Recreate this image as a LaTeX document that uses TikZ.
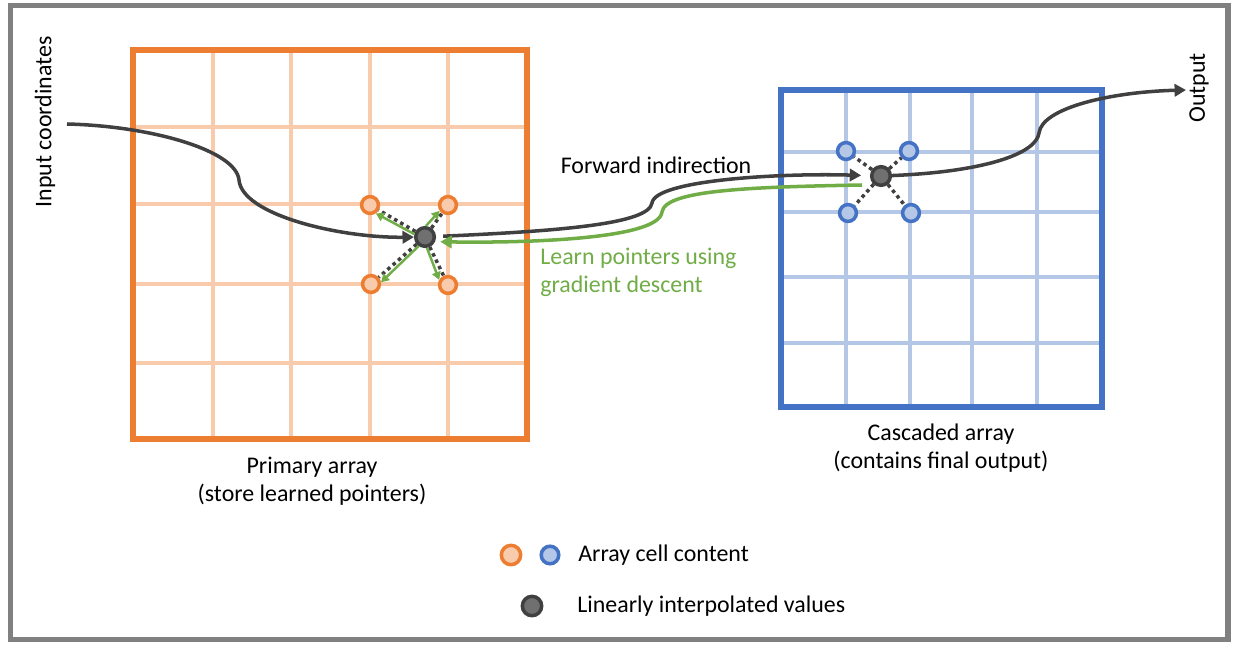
\documentclass[tikz,border=0pt]{standalone}
\usepackage{fontspec}
\setmainfont{Carlito}
\usepackage{tikz}
\usetikzlibrary{arrows.meta}

\definecolor{orangedark}{HTML}{ED7D31}
\definecolor{orangelight}{HTML}{F8CBAD}
\definecolor{bluedark}{HTML}{4472C4}
\definecolor{bluelight}{HTML}{B4C7E7}
\definecolor{pullgreen}{HTML}{70AD47}
\definecolor{curvegray}{HTML}{404040}
\definecolor{framegray}{HTML}{808080}
\definecolor{dotgray}{HTML}{707070}

\begin{document}
\begin{tikzpicture}[x=0.02cm,y=-0.02cm,
	font=\fontsize{13.6}{15.9}\selectfont,
	cellA/.style={circle,draw=orangedark,fill=orangelight,line width=2pt,minimum size=9.6pt,inner sep=0pt},
	cellB/.style={circle,draw=bluedark,fill=bluelight,line width=2pt,minimum size=9.6pt,inner sep=0pt},
	interp/.style={circle,draw=curvegray,fill=dotgray,line width=2pt,minimum size=10.6pt,inner sep=0pt},
	gridA/.style={orangelight,line width=2.1pt},
	gridB/.style={bluelight,line width=2.1pt},
	flow/.style={curvegray,line width=2pt,-{Triangle[length=6.5pt,width=7pt]}},
	pull/.style={pullgreen,line width=1.4pt,-{Triangle[length=4.5pt,width=5pt]}},
	link/.style={curvegray,line width=2pt,dash pattern=on 2pt off 2pt}]
	\useasboundingbox (0,0) rectangle (1238,652);
	% outer frame
	\draw[framegray,line width=3pt] (10.5,5.5) rectangle (1228,639.5);
	% primary array
	\foreach \gx in {213,291,370,448} \draw[gridA] (\gx,50) -- (\gx,439);
	\foreach \gy in {127,204,284,363} \draw[gridA] (133,\gy) -- (527,\gy);
	\draw[orangedark,line width=3.3pt] (133,50) rectangle (527,439);
	% cascaded array
	\foreach \gx in {846,910,972,1037} \draw[gridB] (\gx,90) -- (\gx,407);
	\foreach \gy in {152,212,277,343} \draw[gridB] (781,\gy) -- (1102,\gy);
	\draw[bluedark,line width=3.3pt] (781,90) rectangle (1102,407);
	% cell contents and interpolated values
	\node[cellA] (pa1) at (370,205) {};
	\node[cellA] (pa2) at (448,205) {};
	\node[cellA] (pa3) at (371,284) {};
	\node[cellA] (pa4) at (448,285) {};
	\node[interp] (pd) at (425,237) {};
	\node[cellB] (cb1) at (846,151) {};
	\node[cellB] (cb2) at (909,151) {};
	\node[cellB] (cb3) at (848,213) {};
	\node[cellB] (cb4) at (911,213) {};
	\node[interp] (pc) at (881,176) {};
	\foreach \c in {pa1,pa2,pa3,pa4} \draw[link] (pd) -- (\c);
	\foreach \c in {cb1,cb2,cb3,cb4} \draw[link] (pc) -- (\c);
	% gradient towards the pointers
	\draw[pull] (pd.165) -- (pa1.-55);
	\draw[pull] (pd.85) -- (pa2.215);
	\draw[pull] (pd.235) -- (pa3.10);
	\draw[pull] (pd.-80) -- (pa4.150);
	% labels
	\node[rotate=90] (inlabel) at (45,122) {Input coordinates};
	\node[rotate=90] (outlabel) at (1199,88) {Output};
	\coordinate (inp) at (67,124);
	\coordinate (outp) at (1186,90);
	\coordinate (gsrc) at (862,185);
	\node[align=center] (primlabel) at (312,481) {Primary array\\(store learned pointers)};
	\node[align=center] (caslabel) at (941,448) {Cascaded array\\(contains final output)};
	\node (fwlabel) at (656,165) {Forward indirection};
	\node[text=pullgreen,align=left,anchor=west,inner sep=0pt] (gdlabel) at (540,272) {Learn pointers using\\gradient descent};
	% curves
	\draw[flow] (inp) .. controls (150,126) and (236,150) .. (239,180)
		.. controls (242,215) and (340,238) .. (pd);
	\draw[flow,shorten <=4pt,shorten >=5pt] (pd) .. controls (560,231) and (649,224) .. (652,203)
		.. controls (655,180) and (780,173) .. (pc);
	\draw[pull,line width=2pt,-{Triangle[length=6.5pt,width=7pt]},shorten >=3pt] (gsrc) .. controls (750,187) and (665,190) .. (662,212)
		.. controls (659,240) and (520,243) .. (pd.-25);
	\draw[flow] (pc) .. controls (980,172) and (1036,155) .. (1039,133)
		.. controls (1042,108) and (1110,92) .. (outp);
	% legend
	\node[cellA,minimum size=11pt] (legA) at (511,555) {};
	\node[cellB,minimum size=10pt] (legB) at (550,555) {};
	\node[anchor=west,inner sep=0pt] (legtext1) at (578,555) {Array cell content};
	\node[interp,minimum size=11pt] (legdot) at (532,606) {};
	\node[anchor=west,inner sep=0pt] (legtext2) at (577,606) {Linearly interpolated values};
\end{tikzpicture}
\end{document}
